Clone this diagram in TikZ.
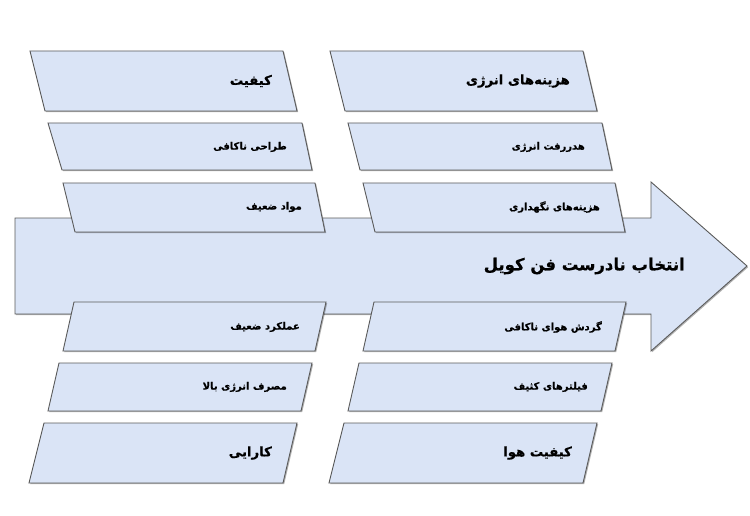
\documentclass[tikz,border=0pt]{standalone}
\usepackage{fontspec}
\TeXXeTstate=1
\newfontfamily\fa{DejaVu Sans Bold}[Script=Arabic, FakeBold=0.6]
\usetikzlibrary{shadows}
\definecolor{boxfill}{HTML}{DAE4F6}
\definecolor{boxline}{HTML}{5A5A5A}
\tikzset{
  shapebox/.style={draw=boxline, fill=boxfill, line width=0.9pt, line join=miter,
    drop shadow={shadow xshift=1.2pt, shadow yshift=-1.2pt, opacity=0.3, fill=black}},
  biglabel/.style={anchor=east, inner sep=0pt, font=\fa\fontsize{13.2}{16}\selectfont},
  smalllabel/.style={anchor=east, inner sep=0pt, font=\fa\fontsize{10}{12}\selectfont},
  titlelabel/.style={anchor=east, inner sep=0pt, font=\fa\fontsize{16.5}{20}\selectfont},
}
\begin{document}
\begin{tikzpicture}[x=1pt,y=-1pt]
\useasboundingbox (0,0) rectangle (750,516);
% main arrow
\draw[shapebox] (15,218) -- (651,218) -- (651,182) -- (747,266) -- (651,351) -- (651,314) -- (15,314) -- cycle;
% left column, top
\draw[shapebox] (30,51) -- (283,51) -- (297,111) -- (45,111) -- cycle;
\draw[shapebox] (48,123) -- (302,123) -- (312,170) -- (62,170) -- cycle;
\draw[shapebox] (63,183) -- (315,183) -- (325,232) -- (75,232) -- cycle;
% right column, top
\draw[shapebox] (330,51) -- (583,51) -- (597,111) -- (345,111) -- cycle;
\draw[shapebox] (348,123) -- (602,123) -- (612,170) -- (360,170) -- cycle;
\draw[shapebox] (363,183) -- (615,183) -- (625,232) -- (375,232) -- cycle;
% left column, bottom
\draw[shapebox] (74,302) -- (326,302) -- (315,351) -- (63,351) -- cycle;
\draw[shapebox] (59,363) -- (312,363) -- (301,411) -- (48,411) -- cycle;
\draw[shapebox] (44,423) -- (297,423) -- (283,483) -- (29,483) -- cycle;
% right column, bottom
\draw[shapebox] (374,302) -- (626,302) -- (615,351) -- (363,351) -- cycle;
\draw[shapebox] (359,363) -- (612,363) -- (601,411) -- (348,411) -- cycle;
\draw[shapebox] (344,423) -- (597,423) -- (583,483) -- (329,483) -- cycle;
% labels
\node[biglabel] (kefiat) at (272,81) {\beginR کیفیت\endR};
\node[smalllabel] (tarahi) at (287,147) {\beginR طراحی ناکافی\endR};
\node[smalllabel] (mavad) at (302,207) {\beginR مواد ضعیف\endR};
\node[biglabel] (hazine) at (570,81) {\beginR هزینه‌های انرژی\endR};
\node[smalllabel] (hadar) at (585,147) {\beginR هدررفت انرژی\endR};
\node[smalllabel] (negah) at (600,207) {\beginR هزینه‌های نگهداری\endR};
\node[titlelabel] (title) at (685,266) {\beginR انتخاب نادرست فن کویل\endR};
\node[smalllabel] (amalkard) at (300,327) {\beginR عملکرد ضعیف\endR};
\node[smalllabel] (masraf) at (287,387) {\beginR مصرف انرژی بالا\endR};
\node[biglabel] (karaei) at (272,453) {\beginR کارایی\endR};
\node[smalllabel] (gardesh) at (602,327) {\beginR گردش هوای ناکافی\endR};
\node[smalllabel] (filter) at (588,387) {\beginR فیلترهای کثیف\endR};
\node[biglabel] (havaq) at (572,453) {\beginR کیفیت هوا\endR};
\end{tikzpicture}
\end{document}
